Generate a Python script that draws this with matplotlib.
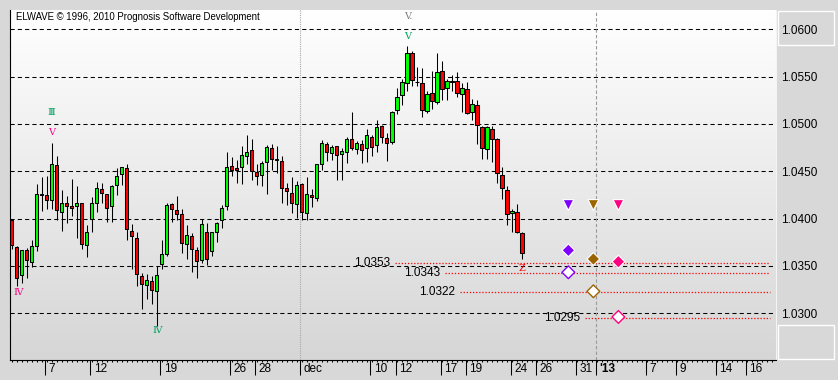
import numpy as np
import matplotlib.pyplot as plt
import matplotlib.transforms as mtransforms
from matplotlib.colors import LinearSegmentedColormap
from matplotlib.patches import Rectangle

plt.rcParams['font.family'] = ['Liberation Sans', 'DejaVu Sans']

# 8-hour candles, EUR/CHF-like, Nov 2012 - Dec 2012
opens = [1.0399, 1.0370, 1.0340, 1.0367, 1.0354, 1.0371, 1.0426, 1.0425, 1.0420, 1.0457,
         1.0407, 1.0416, 1.0413, 1.0413, 1.0416, 1.0372, 1.0400, 1.0417, 1.0431, 1.0426,
         1.0413, 1.0436, 1.0447, 1.0453, 1.0387, 1.0380, 1.0339, 1.0330, 1.0334, 1.0324,
         1.0352, 1.0363, 1.0415, 1.0409, 1.0405, 1.0373, 1.0382, 1.0367, 1.0356, 1.0386,
         1.0366, 1.0386, 1.0398, 1.0413, 1.0456, 1.0453, 1.0454, 1.0466, 1.0472, 1.0449,
         1.0446, 1.0460, 1.0475, 1.0462, 1.0461, 1.0432, 1.0427, 1.0415, 1.0437, 1.0406,
         1.0425, 1.0422, 1.0458, 1.0479, 1.0469, 1.0477, 1.0468, 1.0470, 1.0484, 1.0474,
         1.0479, 1.0475, 1.0486, 1.0478, 1.0498, 1.0485, 1.0481, 1.0515, 1.0531, 1.0543,
         1.0575, 1.0544, 1.0543, 1.0514, 1.0533, 1.0523, 1.0556, 1.0538, 1.0545, 1.0545,
         1.0532, 1.0537, 1.0513, 1.0520, 1.0497, 1.0474, 1.0495, 1.0484, 1.0446, 1.0430,
         1.0406, 1.0407, 1.0385]
highs = [1.0399, 1.0371, 1.0367, 1.0369, 1.0377, 1.0437, 1.0444, 1.0445, 1.0480, 1.0466,
         1.0430, 1.0424, 1.0442, 1.0434, 1.0416, 1.0393, 1.0423, 1.0439, 1.0438, 1.0426,
         1.0435, 1.0453, 1.0455, 1.0458, 1.0394, 1.0386, 1.0342, 1.0341, 1.0339, 1.0350,
         1.0377, 1.0416, 1.0417, 1.0424, 1.0410, 1.0393, 1.0385, 1.0370, 1.0400, 1.0395,
         1.0386, 1.0396, 1.0414, 1.0470, 1.0465, 1.0462, 1.0477, 1.0488, 1.0484, 1.0458,
         1.0461, 1.0478, 1.0479, 1.0477, 1.0466, 1.0438, 1.0444, 1.0440, 1.0438, 1.0444,
         1.0431, 1.0458, 1.0483, 1.0481, 1.0478, 1.0477, 1.0475, 1.0486, 1.0513, 1.0482,
         1.0483, 1.0495, 1.0488, 1.0504, 1.0499, 1.0490, 1.0514, 1.0538, 1.0548, 1.0582,
         1.0577, 1.0560, 1.0559, 1.0535, 1.0556, 1.0575, 1.0567, 1.0548, 1.0552, 1.0555,
         1.0543, 1.0544, 1.0526, 1.0525, 1.0498, 1.0498, 1.0498, 1.0485, 1.0454, 1.0434,
         1.0410, 1.0415, 1.0386]
lows = [1.0368, 1.0329, 1.0332, 1.0337, 1.0349, 1.0366, 1.0408, 1.0410, 1.0410, 1.0399,
        1.0387, 1.0395, 1.0403, 1.0379, 1.0368, 1.0359, 1.0386, 1.0407, 1.0417, 1.0396,
        1.0396, 1.0425, 1.0436, 1.0377, 1.0347, 1.0329, 1.0305, 1.0315, 1.0310, 1.0287,
        1.0347, 1.0361, 1.0396, 1.0398, 1.0364, 1.0357, 1.0344, 1.0337, 1.0353, 1.0351,
        1.0361, 1.0375, 1.0390, 1.0409, 1.0445, 1.0438, 1.0437, 1.0458, 1.0441, 1.0436,
        1.0434, 1.0426, 1.0451, 1.0448, 1.0416, 1.0414, 1.0406, 1.0401, 1.0398, 1.0399,
        1.0412, 1.0419, 1.0451, 1.0461, 1.0462, 1.0441, 1.0441, 1.0459, 1.0472, 1.0468,
        1.0459, 1.0460, 1.0466, 1.0470, 1.0480, 1.0461, 1.0479, 1.0511, 1.0520, 1.0535,
        1.0540, 1.0540, 1.0507, 1.0512, 1.0516, 1.0521, 1.0525, 1.0525, 1.0535, 1.0529,
        1.0513, 1.0510, 1.0504, 1.0479, 1.0463, 1.0463, 1.0460, 1.0438, 1.0421, 1.0393,
        1.0386, 1.0385, 1.0357]
closes = [1.0372, 1.0337, 1.0367, 1.0356, 1.0371, 1.0426, 1.0425, 1.0420, 1.0458, 1.0409,
          1.0416, 1.0413, 1.0411, 1.0417, 1.0373, 1.0386, 1.0416, 1.0432, 1.0427, 1.0411,
          1.0434, 1.0445, 1.0454, 1.0389, 1.0382, 1.0341, 1.0331, 1.0335, 1.0325, 1.0340,
          1.0363, 1.0414, 1.0410, 1.0405, 1.0374, 1.0383, 1.0368, 1.0355, 1.0394, 1.0357,
          1.0386, 1.0395, 1.0411, 1.0454, 1.0451, 1.0451, 1.0467, 1.0470, 1.0450, 1.0445,
          1.0459, 1.0476, 1.0463, 1.0463, 1.0432, 1.0429, 1.0416, 1.0436, 1.0407, 1.0426,
          1.0423, 1.0458, 1.0480, 1.0470, 1.0476, 1.0467, 1.0471, 1.0484, 1.0475, 1.0480,
          1.0473, 1.0488, 1.0476, 1.0497, 1.0486, 1.0480, 1.0513, 1.0529, 1.0544, 1.0575,
          1.0546, 1.0544, 1.0515, 1.0532, 1.0524, 1.0555, 1.0537, 1.0545, 1.0544, 1.0533,
          1.0538, 1.0512, 1.0521, 1.0499, 1.0475, 1.0497, 1.0484, 1.0448, 1.0432, 1.0405,
          1.0408, 1.0386, 1.0364]

# date axis (bar index positions)
tick_pos = [6.75, 15.75, 29.75, 43.75, 48.75, 57.75, 71.75, 76.75, 85.75, 90.75,
            99.75, 104.75, 112.75, 116.75, 126.75, 132.75, 140.75, 146.75]
tick_labels = ['7', '12', '19', '26', '28', 'dec', '10', '12', '17', '19',
               '24', '26', '31', "'13", '7', '9', '14', '16']
price_ticks = [1.0300, 1.0350, 1.0400, 1.0450, 1.0500, 1.0550, 1.0600]

# projected levels
levels = [1.0353, 1.0343, 1.0322, 1.0295]
level_start = [76.6, 86.6, 89.6, 114.6]
level_end = 151.6

# target markers
target_x = [111.3, 116.3, 121.3]
target_colors = ['#8000ff', '#9c6400', '#ff0080']
tri_y = [1.04144, 1.04144, 1.04144]
filled_y = [1.03665, 1.03573, 1.03545]
hollow_y = [1.03433, 1.03232, 1.02961]

# wave labels
wave_text = ['Ⅲ', 'Ⅴ', 'Ⅳ', 'Ⅳ', 'Ⅴ', 'V.', 'Z']
wave_x = [8.0, 8.0, 1.4, 29.2, 79.1, 79.3, 102.0]
wave_y = [1.05116, 1.04908, 1.03217, 1.02813, 1.05922, 1.06133, 1.03475]
wave_colors = ['#00a060', '#ff0080', '#ff0080', '#00a060', '#00a060', '#808080', '#ff0000']

xmin, xmax = -0.3, 152.8
ymin, ymax = 1.02506, 1.06204

fig = plt.figure(figsize=(8.38, 3.8), dpi=100, facecolor='#d8d8d8')
ax = fig.add_axes([10 / 838, 20 / 380, 766 / 838, 350 / 380])

# background gradient
grad = LinearSegmentedColormap.from_list('bg', ['#ffffff', '#d6d6d6'])
ax.imshow(np.linspace(0, 1, 256).reshape(-1, 1), cmap=grad, aspect='auto',
          extent=[xmin, xmax, ymin, ymax], zorder=0)

for p in price_ticks:
    ax.axhline(p, color='black', lw=0.75, ls=(0, (4, 3)), zorder=1)
ax.axvline(57.75, color='#a8a8a8', lw=0.8, ls=(0, (1, 1)), zorder=1)
ax.axvline(116.75, color='#9a9a9a', lw=0.8, ls=(0, (3, 2)), zorder=1)

# candles
x = np.arange(len(opens))
o = np.array(opens)
c = np.array(closes)
up = c >= o
ax.vlines(x, lows, highs, color='black', lw=0.75, zorder=2)
ax.bar(x, np.abs(c - o), bottom=np.minimum(o, c), width=0.7,
       color=np.where(up, '#00ff00', '#ff0000'), edgecolor='black', lw=0.75, zorder=3)

# levels with labels
for lv, xs in zip(levels, level_start):
    ax.hlines(lv, xs, level_end, color='#ff0000', lw=0.9, ls=(0, (1, 1.5)), zorder=2)
    ax.text(xs - 1.0, lv, '%.4f' % lv, ha='right', va='center', fontsize=8.5, zorder=4)

ax.scatter(target_x, tri_y, marker='v', s=60, c=target_colors, edgecolors='white', linewidths=0.8, zorder=5)
ax.scatter(target_x, filled_y, marker='D', s=42, c=target_colors, edgecolors='white', linewidths=0.8, zorder=5)
ax.scatter(target_x, hollow_y, marker='D', s=42, facecolors='white', edgecolors=target_colors, linewidths=1.0, zorder=5)

for t, wx, wy, col in zip(wave_text, wave_x, wave_y, wave_colors):
    ax.text(wx, wy, t, color=col, ha='center', va='center', fontsize=7,
            family=['DejaVu Serif', 'DejaVu Sans'], zorder=6)

ax.set_xlim(xmin, xmax)
ax.set_ylim(ymin, ymax)

ax.spines['top'].set_visible(False)
ax.spines['left'].set_color('black')
ax.spines['bottom'].set_color('black')
ax.spines['right'].set_color('#f4f4f4')

ax.yaxis.tick_right()
ax.set_yticks(price_ticks)
ax.set_yticklabels(['%.4f' % p for p in price_ticks])
ax.tick_params(axis='y', length=0, pad=3.5, labelsize=8.5)

ax.set_xticks(tick_pos)
ax.set_xticklabels(tick_labels)
ax.set_xticks(np.arange(0, 153), minor=True)
ax.tick_params(axis='x', which='major', length=10.8, width=0.75, pad=-8.6, labelsize=8.5)
ax.tick_params(axis='x', which='minor', length=1.5, width=0.75)
shift = mtransforms.ScaledTranslation(2.5 / 72, 0, fig.dpi_scale_trans)
for lab in ax.get_xticklabels():
    lab.set_horizontalalignment('left')
    lab.set_transform(lab.get_transform() + shift)
    if lab.get_text() == "'13":
        lab.set_fontweight('bold')

fig.text(16 / 838, 1 - 16.5 / 380, 'ELWAVE © 1996, 2010 Prognosis Software Development',
         fontsize=6.9, va='center', ha='left')

# price scale boxes on the right
fig.patches.append(Rectangle((778 / 838, 1 - 45 / 380), 56 / 838, 34 / 380, transform=fig.transFigure,
                             facecolor='none', edgecolor='white', lw=1, zorder=0))
fig.patches.append(Rectangle((778 / 838, 1 - 359 / 380), 56 / 838, 34 / 380, transform=fig.transFigure,
                             facecolor='none', edgecolor='white', lw=1, zorder=0))

plt.savefig('out.png', dpi=100, facecolor=fig.get_facecolor())
